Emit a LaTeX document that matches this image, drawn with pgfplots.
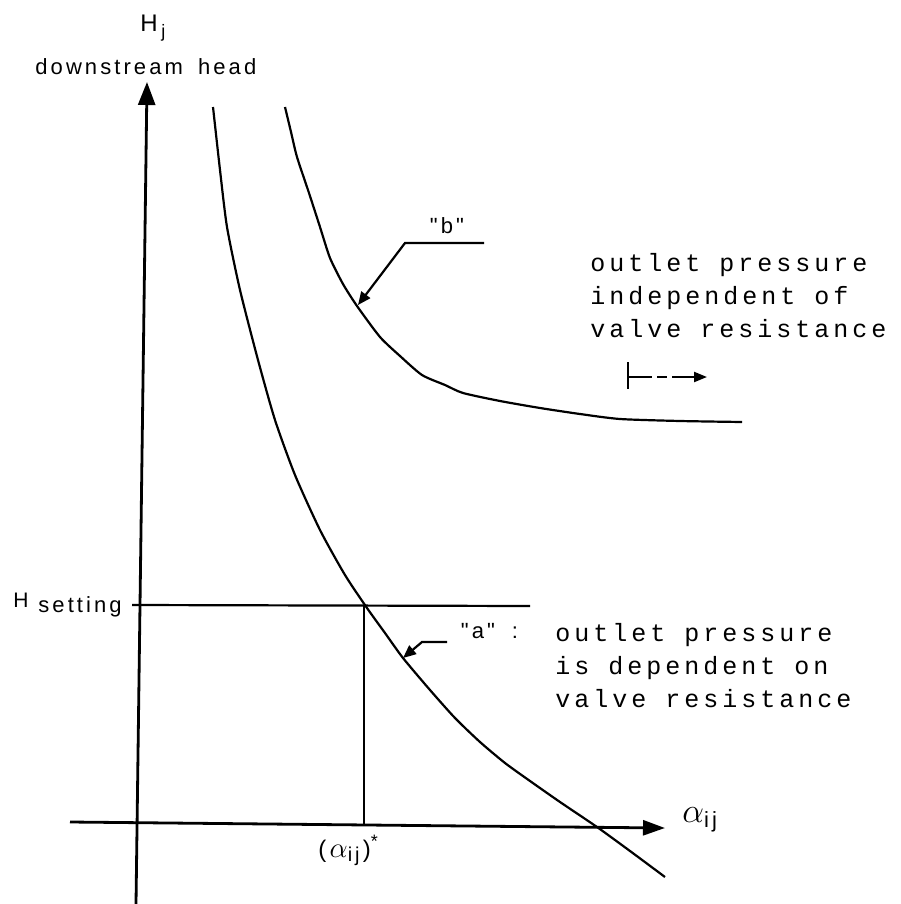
\documentclass[border=0pt]{standalone}
\usepackage{pgfplots}
\pgfplotsset{compat=1.18}
\usepackage{fontspec}
\usetikzlibrary{arrows.meta}
\setmainfont{Liberation Sans}
\newfontfamily\plotmono[LetterSpace=16]{Liberation Mono}
\newfontfamily\plotsans[LetterSpace=14]{Liberation Sans}

\begin{document}
\begin{tikzpicture}
\begin{axis}[
  scale only axis, width=450pt, height=452pt,
  xmin=0, xmax=900, ymin=0, ymax=904, y dir=reverse,
  hide axis, clip=false]

% axes
\addplot[black, line width=1.4pt, -{Triangle[length=11.5pt,width=8.5pt]}]
  coordinates {(136,904) (147,82)};
\addplot[black, line width=1.4pt, -{Triangle[length=11pt,width=7.5pt]}]
  coordinates {(70,822) (665,828)};

% setting level and the corresponding resistance
\addplot[black, line width=1.1pt] coordinates {(132,605) (530,606)};
\addplot[black, line width=1.1pt] coordinates {(364,606) (364,826)};

% curve "a"
\addplot[black, line width=1.1pt, smooth, tension=0.4] coordinates {
  (213,107) (220,170) (227,227) (240,290) (258,360) (275,420) (295,475)
  (320,530) (345,575) (367,608) (385,633) (403,658) (430,690) (455,718)
  (480,742) (505,763) (530,781) (560,802) (597,827) (630,851) (665,877)};

% curve "b"
\addplot[black, line width=1.1pt, smooth, tension=0.4] coordinates {
  (285,107) (291,132) (297,157) (309,193) (320,227) (330,258) (343,284)
  (357,306) (380,337) (400,356) (422,375) (445,385) (463,393) (500,401)
  (540,408) (580,414) (620,419) (680,421) (742,422)};

% leaders
\addplot[black, line width=1.1pt, -{Triangle[length=6.5pt,width=5.5pt]}]
  coordinates {(484,243) (405,243) (358,305)};
\addplot[black, line width=1.1pt, -{Triangle[length=6.5pt,width=5.5pt]}]
  coordinates {(447,642) (422,642) (403,658)};

% small range arrow
\addplot[black, line width=1.1pt] coordinates {(628,362) (628,389)};
\addplot[black, line width=1.1pt, dash pattern=on 12pt off 2.5pt on 5pt off 2.5pt on 30pt,
  -{Triangle[length=6.5pt,width=5pt]}]
  coordinates {(628,377) (707,377)};

% labels
\node[anchor=base west, inner sep=0] at (axis cs:140,32)
  {\plotsans\fontsize{12}{14}\selectfont H};
\node[anchor=base west, inner sep=0] at (axis cs:161,38)
  {\plotsans\fontsize{9}{10}\selectfont j};
\node[anchor=base west, inner sep=0] at (axis cs:35,75)
  {\plotsans\fontsize{11}{13}\selectfont downstream\hspace{3pt} head};

\node[anchor=base west, inner sep=0] at (axis cs:13,607)
  {\plotsans\fontsize{10.5}{12}\selectfont H};
\node[anchor=base west, inner sep=0] at (axis cs:38,612)
  {\plotsans\fontsize{11}{13}\selectfont setting};

\node[anchor=base west, inner sep=0] at (axis cs:318,857)
  {{\plotsans\fontsize{12}{14}\selectfont(}\,{\fontsize{15}{17}\selectfont$\alpha$}\raisebox{-2pt}{\plotsans\fontsize{10}{12}\selectfont ij}\,{\plotsans\fontsize{12}{14}\selectfont)}\raisebox{5pt}{\plotsans\fontsize{9}{10}\selectfont *}};
\node[anchor=base west, inner sep=0] at (axis cs:682,822)
  {{\fontsize{18}{20}\selectfont$\alpha$}\raisebox{-2.5pt}{\plotsans\fontsize{11}{13}\selectfont ij}};

\node[anchor=base, inner sep=0] at (axis cs:447,233)
  {\plotsans\fontsize{11}{13}\selectfont "b"};
\node[anchor=base, inner sep=0] at (axis cs:478,638)
  {\plotsans\fontsize{11}{13}\selectfont "a"};
\node[anchor=base, inner sep=0] at (axis cs:515,638)
  {\plotsans\fontsize{11}{13}\selectfont :};

\node[anchor=base west, inner sep=0] at (axis cs:590,271)
  {\plotmono\fontsize{12.5}{14}\selectfont outlet pressure};
\node[anchor=base west, inner sep=0] at (axis cs:590,304)
  {\plotmono\fontsize{12.5}{14}\selectfont independent of};
\node[anchor=base west, inner sep=0] at (axis cs:590,337)
  {\plotmono\fontsize{12.5}{14}\selectfont valve resistance};

\node[anchor=base west, inner sep=0] at (axis cs:555,641)
  {\plotmono\fontsize{12.5}{14}\selectfont outlet pressure};
\node[anchor=base west, inner sep=0] at (axis cs:555,674)
  {\plotmono\fontsize{12.5}{14}\selectfont is dependent on};
\node[anchor=base west, inner sep=0] at (axis cs:555,707)
  {\plotmono\fontsize{12.5}{14}\selectfont valve resistance};
\end{axis}
\pgfresetboundingbox
\useasboundingbox (current axis.south west) rectangle (current axis.north east);
\end{tikzpicture}
\end{document}
